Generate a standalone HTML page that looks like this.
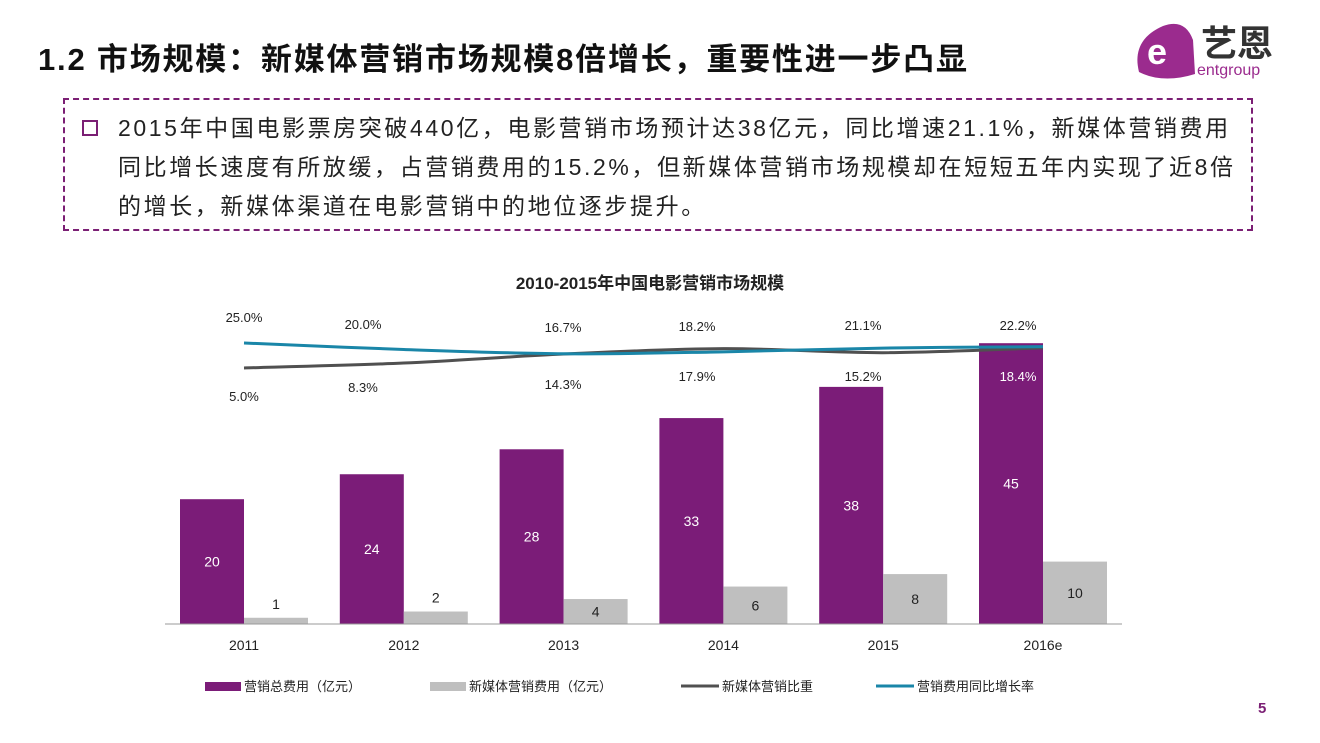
<!DOCTYPE html>
<html><head><meta charset="utf-8">
<style>
body{margin:0;width:1320px;height:743px;background:#fff;font-family:"Liberation Sans","Noto Sans CJK SC",sans-serif;position:relative;overflow:hidden}
.title{position:absolute;left:38px;top:34px;font-size:31px;font-weight:bold;color:#111;letter-spacing:1.8px;white-space:nowrap}
.box{position:absolute;left:63px;top:98px;width:1190px;height:133px;border:2px dashed #7b1f74;box-sizing:border-box}
.box .sq{position:absolute;left:17px;top:20px;width:12px;height:12px;border:2.5px solid #7b1f74}
.box p{position:absolute;left:53px;top:9px;margin:0;font-size:23px;line-height:39px;color:#222;white-space:nowrap;letter-spacing:2.6px}
svg text{font-family:"Liberation Sans","Noto Sans CJK SC",sans-serif}
</style></head><body>
<div class="title">1.2 市场规模：新媒体营销市场规模8倍增长，重要性进一步凸显</div>
<div style="position:absolute;left:1133px;top:18px;width:180px;height:64px">
<svg width="180" height="64"><path d="M6,54 Q-2,22 30,8 Q52,0 60,22 L62,56 Q30,66 6,54Z" fill="#9b2b8e"/><text x="14" y="46" font-size="36" fill="#fff" font-weight="bold">e</text><text x="68" y="38" font-size="36" fill="#333" font-weight="bold">艺恩</text><text x="64" y="57" font-size="16" fill="#9b2b8e">entgroup</text></svg></div>
<div class="box"><div class="sq"></div>
<p>2015年中国电影票房突破440亿，电影营销市场预计达38亿元，同比增速21.1%，新媒体营销费用<br>同比增长速度有所放缓，占营销费用的15.2%，但新媒体营销市场规模却在短短五年内实现了近8倍<br>的增长，新媒体渠道在电影营销中的地位逐步提升。</p></div>
<svg id="chart" width="1320" height="743" style="position:absolute;left:0;top:0"></svg>
<div style="position:absolute;left:1258px;top:700px;font-size:15px;color:#7b1f74;font-weight:bold">5</div>
<script>
const categories=["2011","2012","2013","2014","2015","2016e"];
const totalCost=[20,24,28,33,38,45];
const newMediaCost=[1,2,4,6,8,10];
const newMediaShare=[5.0,8.3,14.3,17.9,15.2,18.4];
const growthRate=[25.0,20.0,16.7,18.2,21.1,22.2];
const shareLabels=["5.0%","8.3%","14.3%","17.9%","15.2%","18.4%"];
const growthLabels=["25.0%","20.0%","16.7%","18.2%","21.1%","22.2%"];
const NS="http://www.w3.org/2000/svg";
const svg=document.getElementById('chart');
function mk(t,a,txt){const e=document.createElementNS(NS,t);for(const k in a)e.setAttribute(k,a[k]);if(txt!=null)e.textContent=txt;svg.appendChild(e);return e;}
const base=624;
const xc=i=>244+i*159.8;
const yb=v=>base-v*6.24;
const ys=v=>368-(v-5)*1.5;
const yg=v=>343+(25-v)*1.3;
let t=mk('text',{x:650,y:289,'text-anchor':'middle','font-size':17,'font-weight':'bold',fill:'#222'},'2010-2015年中国电影营销市场规模');

categories.forEach((c,i)=>{
 let r=mk('rect',{x:xc(i)-64,y:yb(totalCost[i]),width:64,height:totalCost[i]*6.24,fill:'#7b1c78'});
 
 let g=mk('rect',{x:xc(i),y:yb(newMediaCost[i]),width:64,height:newMediaCost[i]*6.24,fill:'#bfbfbf'});
 
 let l1=mk('text',{x:xc(i)-32,y:(yb(totalCost[i])+base)/2+5,'text-anchor':'middle','font-size':14,fill:'#fff'},totalCost[i]);
 
 let l2=mk('text',{x:xc(i)+32,y:(yb(newMediaCost[i])+base)/2+5,'text-anchor':'middle','font-size':14,fill:'#222'},newMediaCost[i]);
 if(newMediaCost[i]<3)l2.setAttribute('y',yb(newMediaCost[i])-9);
 
 let xl=mk('text',{x:xc(i),y:650,'text-anchor':'middle','font-size':14,fill:'#222'},c);
 
});
let ax=mk('line',{x1:165,x2:1122,y1:base,y2:base,stroke:'#999','stroke-width':1});

function smooth(pts){let d='M'+pts[0][0]+','+pts[0][1];for(let i=0;i<pts.length-1;i++){const p0=pts[i-1]||pts[i],p1=pts[i],p2=pts[i+1],p3=pts[i+2]||p2;d+=` C${p1[0]+(p2[0]-p0[0])/6},${p1[1]+(p2[1]-p0[1])/6} ${p2[0]-(p3[0]-p1[0])/6},${p2[1]-(p3[1]-p1[1])/6} ${p2[0]},${p2[1]}`;}return d;}
let sl=mk('path',{d:smooth(newMediaShare.map((v,i)=>[xc(i),ys(v)])),fill:'none',stroke:'#505050','stroke-width':3});

let gl=mk('path',{d:smooth(growthRate.map((v,i)=>[xc(i),yg(v)])),fill:'none',stroke:'#1a86a8','stroke-width':3});

const gly=[322,329,332,331,330,330], sly=[401,392,389,381,381,381];
const lx=[244,363,563,697,863,1018];
categories.forEach((c,i)=>{
 let a=mk('text',{x:lx[i],y:gly[i],'text-anchor':'middle','font-size':13,fill:'#222'},growthLabels[i]);
 
 let b=mk('text',{x:lx[i],y:sly[i],'text-anchor':'middle','font-size':13,fill:i==5?'#fff':'#222'},shareLabels[i]);
 
});
const leg=[["rect",205,'#7b1c78','营销总费用（亿元）'],["rect",430,'#bfbfbf','新媒体营销费用（亿元）'],["line",681,'#505050','新媒体营销比重'],["line",876,'#1a86a8','营销费用同比增长率']];
leg.forEach(l=>{
 let m=l[0]=='rect'?mk('rect',{x:l[1],y:682,width:36,height:9,fill:l[2]}):mk('line',{x1:l[1],x2:l[1]+38,y1:686,y2:686,stroke:l[2],'stroke-width':3});
 
 let tx=mk('text',{x:l[1]+(l[0]=='rect'?39:41),y:691,'font-size':13,fill:'#222'},l[3]);
 
});
</script>
</body></html>
